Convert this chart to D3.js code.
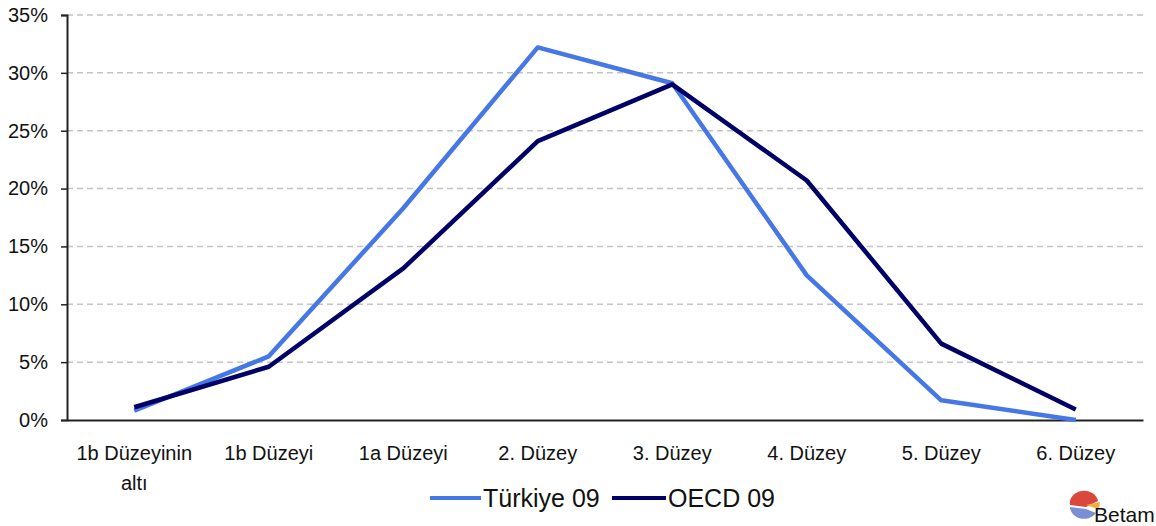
<!DOCTYPE html>
<html>
<head>
<meta charset="utf-8">
<script src="https://cdn.jsdelivr.net/npm/d3@7"></script>
<style>
  body { margin: 0; background: #fff; }
  text { font-family: "Liberation Sans", Arial, sans-serif; fill: #111; }
</style>
</head>
<body>
<svg id="chart" width="1156" height="526"></svg>
<script>
// data
const categories = ["1b Düzeyinin altı", "1b Düzeyi", "1a Düzeyi", "2. Düzey", "3. Düzey", "4. Düzey", "5. Düzey", "6. Düzey"];
const turkiye = [0.8, 5.5, 18.3, 32.2, 29.1, 12.5, 1.7, 0.0];
const oecd = [1.1, 4.6, 13.1, 24.1, 29.0, 20.7, 6.6, 0.9];
const yTicks = [0, 5, 10, 15, 20, 25, 30, 35];
const seriesNames = ["Türkiye 09", "OECD 09"];

const colors = ["#4677e6", "#000066"];

const plotLeft = 67, plotRight = 1143, plotTop = 15, plotBottom = 420;

const svg = d3.select("#chart");

const x = d3.scaleBand().domain(categories).range([plotLeft, plotRight]);
const y = d3.scaleLinear().domain([0, 35]).range([plotBottom, plotTop]);

// dashed grid lines
svg.append("g")
    .selectAll("line")
    .data(yTicks.filter(d => d > 0))
    .enter()
    .append("line")
    .attr("x1", plotLeft)
    .attr("x2", plotRight)
    .attr("y1", d => y(d))
    .attr("y2", d => y(d))
    .attr("stroke", "#c4c4c4")
    .attr("stroke-width", 1.5)
    .attr("stroke-dasharray", "6,4");

// y axis
const yAxis = svg.append("g")
    .attr("transform", `translate(${plotLeft},0)`)
    .call(d3.axisLeft(y).tickValues(yTicks).tickSize(6).tickPadding(13).tickFormat(d => d + "%"));
yAxis.select(".domain").attr("stroke", "#222").attr("stroke-width", 2);
yAxis.selectAll(".tick line").attr("stroke", "#222").attr("stroke-width", 1.5);
yAxis.selectAll("text")
    .style("font-size", "20px")
    .style("font-family", "'Liberation Sans', Arial, sans-serif")
    .attr("fill", "#111");

// x axis
const xAxis = svg.append("g")
    .attr("transform", `translate(0,${plotBottom})`)
    .call(d3.axisBottom(x).tickSize(0).tickFormat(""));
xAxis.select(".domain").attr("stroke", "#222").attr("stroke-width", 2);

// category labels, wrapped
const labelG = svg.append("g");
categories.forEach(c => {
    const words = c === "1b Düzeyinin altı" ? ["1b Düzeyinin", "altı"] : [c];
    const t = labelG.append("text")
        .attr("text-anchor", "middle")
        .style("font-size", "20px");
    words.forEach((w, i) => {
        t.append("tspan")
            .attr("x", x(c) + x.bandwidth() / 2)
            .attr("y", 460 + i * 30)
            .text(w);
    });
});

// lines
const line = d3.line()
    .x((d, i) => x(categories[i]) + x.bandwidth() / 2)
    .y(d => y(d));

[turkiye, oecd].forEach((s, i) => {
    svg.append("path")
        .datum(s)
        .attr("fill", "none")
        .attr("stroke", colors[i])
        .attr("stroke-width", 4.5)
        .attr("stroke-linejoin", "round")
        .attr("d", line);
});

// legend
const legend = [
    { name: seriesNames[0], x1: 430, x2: 481, tx: 483 },
    { name: seriesNames[1], x1: 612, x2: 666, tx: 668 }
];
legend.forEach((l, i) => {
    svg.append("line")
        .attr("x1", l.x1).attr("x2", l.x2)
        .attr("y1", 498).attr("y2", 498)
        .attr("stroke", colors[i])
        .attr("stroke-width", 4);
    svg.append("text")
        .attr("x", l.tx)
        .attr("y", 507)
        .style("font-size", "25px")
        .text(l.name);
});

// Betam logo
const logo = svg.append("g").attr("transform", "translate(1084,505)");
logo.append("path")
    .attr("d", "M-14,0 A14,12 0 0 1 14,-4 L2,2 Z")
    .attr("fill", "#d9473d");
logo.append("path")
    .attr("d", "M-14,2 A14,12 0 0 0 12,8 L2,4 Z")
    .attr("fill", "#7b8fd6");
logo.append("path")
    .attr("d", "M2,0 L16,-3 A14,12 0 0 1 14,4 Z")
    .attr("fill", "#f0b040");
svg.append("text")
    .attr("x", 1094)
    .attr("y", 522)
    .style("font-size", "21px")
    .attr("fill", "#333")
    .text("Betam");
</script>
</body>
</html>
